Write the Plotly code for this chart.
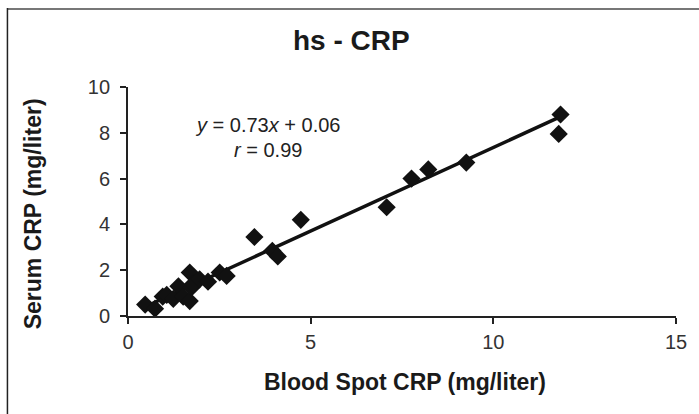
import numpy as np
import plotly.graph_objects as go

blood_spot = [0.47, 0.74, 0.95, 1.06, 1.24, 1.38, 1.51, 1.69, 1.69, 1.74, 1.78, 1.96,
              2.19, 2.51, 2.70, 3.46, 3.95, 4.10, 4.73, 7.08, 7.76, 8.22, 9.26, 11.79, 11.84]
serum = [0.50, 0.32, 0.85, 0.92, 0.75, 1.30, 0.85, 1.90, 0.65, 1.25, 1.40, 1.60,
         1.50, 1.90, 1.75, 3.45, 2.85, 2.60, 4.20, 4.75, 6.00, 6.40, 6.70, 7.95, 8.80]
slope = 0.73
intercept = 0.06
x_ticks = [0, 5, 10, 15]
y_ticks = [0, 2, 4, 6, 8, 10]

FONT = "Liberation Sans, Arial, Helvetica, sans-serif"

W, H = 699, 414
L, R, T, B = 128, 21, 87, 98
PW, PH = W - L - R, H - T - B


def px(xp):
    return (xp - L) / PW


def py(yp):
    return (H - B - yp) / PH


line_x = np.array([min(blood_spot), max(blood_spot)])
line_y = slope * line_x + intercept

fig = go.Figure()
fig.add_trace(go.Scatter(x=line_x, y=line_y, mode="lines",
                         line=dict(color="#111111", width=3.5), showlegend=False,
                         hoverinfo="skip"))
fig.add_trace(go.Scatter(x=blood_spot, y=serum, mode="markers",
                         marker=dict(symbol="diamond", size=14, color="#111111"),
                         showlegend=False))

axis_common = dict(showgrid=False, zeroline=False, showline=True,
                   linecolor="#222222", linewidth=1.8,
                   ticks="outside", ticklen=6, tickcolor="#222222", tickwidth=1.5,
                   tickfont=dict(size=20, color="#333333", family=FONT))

fig.update_layout(
    width=W, height=H,
    margin=dict(l=L, r=R, t=T, b=B),
    paper_bgcolor="white", plot_bgcolor="white",
    font=dict(family=FONT, color="#222222", size=16),
    xaxis=dict(range=[0, 15], tickvals=x_ticks, ticklabelstandoff=1, **axis_common),
    yaxis=dict(range=[0, 10], tickvals=y_ticks, ticklabelstandoff=6, **axis_common),
    shapes=[
        dict(type="line", xref="paper", yref="paper",
             x0=px(7), x1=px(W + 5), y0=py(9), y1=py(9),
             line=dict(color="#777777", width=2)),
        dict(type="line", xref="paper", yref="paper",
             x0=px(7), x1=px(7), y0=py(8), y1=py(H + 5),
             line=dict(color="#222222", width=1.5)),
    ],
    annotations=[
        dict(x=px(352), y=py(40), xref="paper", yref="paper", showarrow=False,
             xanchor="center", yanchor="middle",
             text="<b>hs - CRP</b>", font=dict(size=28, color="#1a1a1a")),
        dict(x=px(406), y=py(382), xref="paper", yref="paper", showarrow=False,
             xanchor="center", yanchor="middle",
             text="<b>Blood Spot CRP (mg/liter)</b>", font=dict(size=23, color="#1a1a1a")),
        dict(x=px(33), y=py(214), xref="paper", yref="paper", showarrow=False, textangle=-90,
             xanchor="center", yanchor="middle",
             text="<b>Serum CRP (mg/liter)</b>", font=dict(size=23, color="#1a1a1a")),
        dict(x=3.82, y=8.34, xref="x", yref="y", showarrow=False,
             xanchor="center", yanchor="middle",
             text="<i>y</i> = 0.73<i>x</i> + 0.06", font=dict(size=20, color="#222222")),
        dict(x=3.82, y=7.25, xref="x", yref="y", showarrow=False,
             xanchor="center", yanchor="middle",
             text="<i>r</i> = 0.99", font=dict(size=20, color="#222222")),
    ],
)

fig.write_html("out.html", config={"displayModeBar": False},
               post_script="document.body.style.margin='0';document.body.style.overflow='hidden';")
